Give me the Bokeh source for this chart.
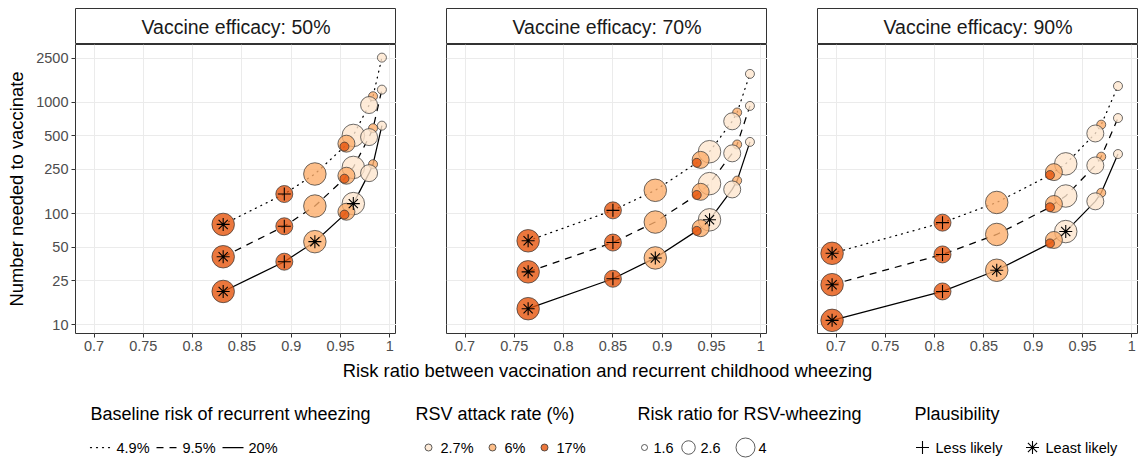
from bokeh.plotting import figure
from bokeh.layouts import column, row
from bokeh.models import ColumnDataSource, Range1d, FixedTicker, CustomJSTickFormatter
from bokeh.embed import file_html
from bokeh.resources import INLINE
from bokeh.core.properties import value

FONT = "Liberation Sans"

# ------------------------------------------------------------------ data
panel_titles = ["Vaccine efficacy: 50%", "Vaccine efficacy: 70%", "Vaccine efficacy: 90%"]
baseline_risk = ["4.9%", "9.5%", "20%"]
attack_rate_levels = ["2.7%", "6%", "17%"]
rr_wheeze_levels = [1.6, 2.6, 4]
plausibility_levels = ["Less likely", "Least likely"]

scenario_attack = ["2.7%", "2.7%", "2.7%", "6%", "6%", "6%", "17%", "17%", "17%"]
scenario_rrw = [1.6, 2.6, 4, 1.6, 2.6, 4, 1.6, 2.6, 4]

risk_ratio_ve50 = [0.992, 0.979, 0.963, 0.983, 0.956, 0.924, 0.954, 0.893, 0.831]
risk_ratio_ve70 = [0.989, 0.971, 0.948, 0.976, 0.939, 0.893, 0.935, 0.850, 0.764]
risk_ratio_ve90 = [0.986, 0.963, 0.933, 0.969, 0.921, 0.863, 0.917, 0.808, 0.696]

nnv_ve50_b4_9 = [2520, 945, 504, 1134, 425, 227, 400, 150, 80]
nnv_ve50_b9_5 = [1300, 487, 260, 585, 219, 117, 206, 77, 41]
nnv_ve50_b20 = [617, 231, 123, 278, 104, 56, 98, 37, 20]
nnv_ve70_b4_9 = [1800, 675, 360, 810, 304, 162, 286, 107, 57]
nnv_ve70_b9_5 = [928, 348, 186, 418, 157, 84, 147, 55, 30]
nnv_ve70_b20 = [441, 165, 88, 198, 74, 40, 70, 26, 14]
nnv_ve90_b4_9 = [1400, 525, 280, 630, 236, 126, 222, 83, 44]
nnv_ve90_b9_5 = [722, 271, 144, 325, 122, 65, 114, 43, 23]
nnv_ve90_b20 = [343, 129, 69, 154, 58, 31, 54, 20, 11]

plausibility_b4_9 = ["", "", "", "", "", "", "", "Less likely", "Least likely"]
plausibility_b9_5 = ["", "", "", "", "", "", "", "Less likely", "Least likely"]
plausibility_b20 = ["", "", "Least likely", "", "", "Least likely", "", "Less likely", "Least likely"]

x_ticks = [0.7, 0.75, 0.8, 0.85, 0.9, 0.95, 1.0]
y_ticks = [10, 25, 50, 100, 250, 500, 1000, 2500]

x_title = "Risk ratio between vaccination and recurrent childhood wheezing"
y_title = "Number needed to vaccinate"
legend_titles = ["Baseline risk of recurrent wheezing", "RSV attack rate (%)",
                 "Risk ratio for RSV-wheezing", "Plausibility"]

# ------------------------------------------------------------------ styles
fill_colors = {"2.7%": "#FEE6CE", "6%": "#FDAE6B", "17%": "#E6550D"}
point_sizes = {1.6: 9, 2.6: 17, 4: 22.5}
legend_sizes = {1.6: 6, 2.6: 13.5, 4: 19}
dashes = {"4.9%": "1 5", "9.5%": "7 6", "20%": "solid"}
caps = {"4.9%": "round", "9.5%": "butt", "20%": "butt"}
markers = {"Less likely": "cross", "Least likely": "asterisk"}

panels = [
    (panel_titles[0], risk_ratio_ve50, [nnv_ve50_b4_9, nnv_ve50_b9_5, nnv_ve50_b20]),
    (panel_titles[1], risk_ratio_ve70, [nnv_ve70_b4_9, nnv_ve70_b9_5, nnv_ve70_b20]),
    (panel_titles[2], risk_ratio_ve90, [nnv_ve90_b4_9, nnv_ve90_b9_5, nnv_ve90_b20]),
]
plaus_sets = [plausibility_b4_9, plausibility_b9_5, plausibility_b20]

FW, FH, SH = 321, 289, 36
LEFT0, GAP, TOP = 75, 50, 8

x_fmt = CustomJSTickFormatter(code="return parseFloat(tick.toFixed(2)).toString();")
y_fmt = CustomJSTickFormatter(code="return Math.round(tick).toString();")


def make_strip(i, title):
    s = figure(frame_width=FW, frame_height=SH, x_range=Range1d(0, 1), y_range=Range1d(0, 1),
               x_axis_location=None, y_axis_location=None, toolbar_location=None,
               output_backend="svg", min_border_left=LEFT0 if i == 0 else GAP,
               min_border_right=0, min_border_top=TOP, min_border_bottom=0,
               outline_line_color="#333333", outline_line_width=1)
    s.grid.visible = False
    s.text(x=[0.5], y=[0.5], text=[title], text_align="center", text_baseline="middle",
           text_font=value(FONT), text_font_size="19.5px", text_color="#1A1A1A")
    return s


def make_panel(i, rr, nnv_sets):
    p = figure(frame_width=FW, frame_height=FH, x_range=Range1d(0.6812, 1.0068),
               y_range=Range1d(8.38, 3306), y_axis_type="log", toolbar_location=None,
               output_backend="svg", min_border_left=LEFT0 if i == 0 else GAP,
               min_border_right=0, min_border_top=0, min_border_bottom=27,
               outline_line_color="#333333", outline_line_width=1)
    for ax, ticks, fmt in ((p.xaxis, x_ticks, x_fmt), (p.yaxis, y_ticks, y_fmt)):
        ax.ticker = FixedTicker(ticks=ticks)
        ax.formatter = fmt
        ax.axis_line_color = None
        ax.major_tick_line_color = "#333333"
        ax.major_tick_in = 0
        ax.major_tick_out = 4
        ax.minor_tick_line_color = None
        ax.major_label_text_font = FONT
        ax.major_label_text_font_size = "14.5px"
        ax.major_label_text_color = "#4D4D4D"
        ax.major_label_standoff = 3
    p.xgrid.ticker = FixedTicker(ticks=x_ticks)
    p.ygrid.ticker = FixedTicker(ticks=y_ticks)
    p.grid.grid_line_color = "#EBEBEB"
    p.grid.grid_line_width = 1
    if i == 0:
        p.yaxis.axis_label = y_title
        p.yaxis.axis_label_text_font = FONT
        p.yaxis.axis_label_text_font_size = "18.4px"
        p.yaxis.axis_label_text_font_style = "normal"
        p.yaxis.axis_label_text_color = "black"
        p.yaxis.axis_label_standoff = 6
    else:
        p.yaxis.visible = False

    # lines, sorted by risk ratio
    for b, nnv in zip(baseline_risk, nnv_sets):
        order = sorted(range(len(rr)), key=lambda k: rr[k])
        p.line([rr[k] for k in order], [nnv[k] for k in order], line_color="black",
               line_width=1.25, line_dash=dashes[b], line_cap=caps[b])

    # bubbles
    xs, ys, cols, sizes = [], [], [], []
    for b, nnv in zip(baseline_risk, nnv_sets):
        order = sorted(range(len(rr)), key=lambda k: -rr[k])
        for k in order:
            xs.append(rr[k])
            ys.append(nnv[k])
            cols.append(fill_colors[scenario_attack[k]])
            sizes.append(point_sizes[scenario_rrw[k]])
    src = ColumnDataSource(dict(x=xs, y=ys, fill=cols, size=sizes))
    p.scatter("x", "y", size="size", fill_color="fill", fill_alpha=0.8,
              line_color="#333333", line_width=0.8, line_alpha=0.9, source=src)

    # plausibility symbols
    for lvl in plausibility_levels:
        px, py = [], []
        for nnv, pl in zip(nnv_sets, plaus_sets):
            for k in range(len(rr)):
                if pl[k] == lvl:
                    px.append(rr[k])
                    py.append(nnv[k])
        p.scatter(px, py, marker=markers[lvl], size=13, line_color="black",
                  line_width=1.1, fill_color=None)
    return p


strips = [make_strip(i, t) for i, (t, _, _) in enumerate(panels)]
plots = [make_panel(i, rr, ns) for i, (_, rr, ns) in enumerate(panels)]

# ------------------------------------------------------------------ bottom: x title + legends
LG_TOP = TOP + SH + FH + 27
lg = figure(frame_width=1138, frame_height=460 - LG_TOP, x_range=Range1d(0, 1138),
            y_range=Range1d(460, LG_TOP), x_axis_location=None, y_axis_location=None,
            toolbar_location=None, output_backend="svg", min_border=0, outline_line_color=None)
lg.grid.visible = False

TXT = dict(text_font=value(FONT), text_baseline="middle")
lg.text(x=[607], y=[370], text=[x_title], text_align="center", text_font_size="18.4px",
        text_color="black", **TXT)

TY, IY = 413, 447
title_x = [90, 415, 637, 914]
lg.text(x=title_x, y=[TY] * 4, text=legend_titles, text_align="left",
        text_font_size="18px", text_color="black", **TXT)

lab_kw = dict(text_align="left", text_font_size="14.5px", text_color="black", **TXT)

# baseline risk: line keys
line_x0 = [90, 156, 222]
for x0, b in zip(line_x0, baseline_risk):
    lg.line([x0, x0 + 21], [IY, IY], line_color="black", line_width=1.25,
            line_dash=dashes[b], line_cap=caps[b])
lg.text(x=[x0 + 26 for x0 in line_x0], y=[IY] * 3, text=baseline_risk, **lab_kw)

# attack rate: filled dots
ar_x = [428, 492, 544]
lg.scatter(ar_x, [IY] * 3, size=7, fill_color=[fill_colors[a] for a in attack_rate_levels],
           fill_alpha=0.8, line_color="#333333", line_width=0.8)
lg.text(x=[x + 12 for x in ar_x], y=[IY] * 3, text=attack_rate_levels, **lab_kw)

# RSV-wheezing risk ratio: open circles
rw_x = [644, 688, 745]
lg.scatter(rw_x, [IY] * 3, size=[legend_sizes[r] for r in rr_wheeze_levels], fill_color="white",
           line_color="#333333", line_width=0.8)
lg.text(x=[x + o for x, o in zip(rw_x, [9, 12, 13])], y=[IY] * 3,
        text=[("%g" % r) for r in rr_wheeze_levels], **lab_kw)

# plausibility
pl_x = [922, 1032]
for x, lvl in zip(pl_x, plausibility_levels):
    lg.scatter([x], [IY], marker=markers[lvl], size=13, line_color="black", line_width=1.1)
lg.text(x=[x + 13 for x in pl_x], y=[IY] * 2, text=plausibility_levels, **lab_kw)

layout = column(row(*strips), row(*plots), lg)
open("out.html", "w").write(file_html(layout, INLINE))
